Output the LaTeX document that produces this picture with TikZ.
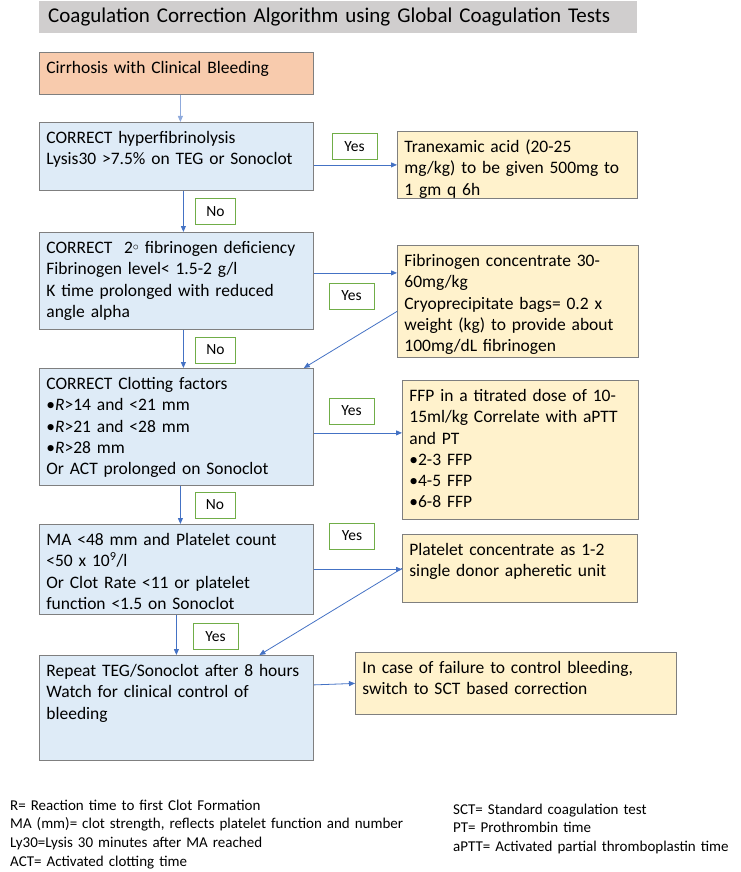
\documentclass[tikz,border=0pt]{standalone}
\usepackage{fontspec}
\setmainfont{Carlito}
\usepackage{xcolor}
\usepackage{tikz}
\usetikzlibrary{arrows.meta, positioning, calc}
\definecolor{headgray}{HTML}{D0CECE}
\definecolor{startorange}{HTML}{F8CBAD}
\definecolor{checkblue}{HTML}{DEEBF7}
\definecolor{treatyellow}{HTML}{FFF2CC}
\definecolor{edgegray}{HTML}{7F7F7F}
\definecolor{flowblue}{HTML}{4472C4}
\definecolor{flowlight}{HTML}{8FAADC}
\definecolor{taggreen}{HTML}{70AD47}
\tikzset{%
	box/.style={draw=edgegray, line width=0.8pt, anchor=north west, align=left,%
		inner xsep=7pt, inner ysep=7pt, text height=14pt, font=\fontsize{17.5}{21.3}\selectfont},
	head/.style={fill=headgray, anchor=north west, align=left, inner xsep=9pt,%
		text width=580pt, minimum height=32pt, font=\fontsize{21}{25}\selectfont},
	start/.style={box, fill=startorange, text width=260pt},
	check/.style={box, fill=checkblue, text width=260pt},
	treat/.style={box, fill=treatyellow},
	tag/.style={draw=taggreen, line width=1pt, fill=white, minimum height=26pt,%
		inner sep=0pt, font=\fontsize{15.5}{18}\selectfont},
	yestag/.style={tag, minimum width=45pt},
	notag/.style={tag, minimum width=40pt},
	flow/.style={flowblue, line width=0.8pt, -{Triangle[length=6pt, width=5pt]}},
	note/.style={anchor=base west, align=left, inner sep=0pt, text width=440pt,%
		font=\fontsize{15}{18.8}\selectfont}
}
\begin{document}
\begin{tikzpicture}[x=1pt, y=-1pt]
	\useasboundingbox (0,0) rectangle (740,872);

	\node[head] (title) at (39,1) {Coagulation Correction Algorithm using Global Coagulation Tests};

	\node[start, text depth=14pt] (cirr) at (39,52) {Cirrhosis with Clinical Bleeding};
	\node[check, text depth=40pt] (hyper) at (39,122) {CORRECT hyperfibrinolysis\\Lysis30 >7.5\% on TEG or Sonoclot};
	\node[treat, text width=226pt, text depth=39pt] (txa) at (397,131) {Tranexamic acid (20-25\\mg/kg) to be given 500mg to\\1 gm q 6h};
	\node[check, text depth=69pt] (fib) at (39,232) {CORRECT\ \ 2{\raisebox{0.3ex}{$\scriptstyle\circ$}} fibrinogen deficiency\\Fibrinogen level< 1.5-2 g/l\\K time prolonged with reduced\\angle alpha};
	\node[treat, text width=227pt, text depth=84pt] (fibdose) at (397,245) {Fibrinogen concentrate 30-\\60mg/kg\\Cryoprecipitate bags= 0.2 x\\weight (kg) to provide about\\100mg/dL fibrinogen};
	\node[check, text depth=89pt] (clot) at (39,368) {CORRECT Clotting factors\\\textbullet\textit{R}>14 and <21 mm\\\textbullet\textit{R}>21 and <28 mm\\\textbullet\textit{R}>28 mm\\Or ACT prolonged on Sonoclot};
	\node[treat, text width=222pt, text depth=111pt] (ffp) at (402,380) {FFP in a titrated dose of 10-\\15ml/kg Correlate with aPTT\\and PT\\\textbullet2-3 FFP\\\textbullet4-5 FFP\\\textbullet6-8 FFP};
	\node[check, text depth=62pt] (plt) at (39,524) {MA <48 mm and Platelet count\\<50 x 10\textsuperscript{9}/l\\Or Clot Rate <11 or platelet\\function <1.5 on Sonoclot};
	\node[treat, text width=221pt, text depth=40pt] (platelet) at (402,534) {Platelet concentrate as 1-2\\single donor apheretic unit};
	\node[check, text depth=77pt] (repeat) at (39,655) {Repeat TEG/Sonoclot after 8~hours\\Watch for clinical control of\\bleeding};
	\node[treat, text width=307pt, text depth=34pt] (sct) at (355,652) {In case of failure to control bleeding,\\switch to SCT based correction};

	\node[yestag] (yes1) at (354.5,146.5) {Yes};
	\node[notag] (no1) at (215.5,211.5) {No};
	\node[yestag] (yes2) at (351.5,296) {Yes};
	\node[notag] (no2) at (215.5,350) {No};
	\node[yestag] (yes3) at (351.5,411) {Yes};
	\node[notag] (no3) at (215,505) {No};
	\node[yestag] (yes4) at (352,536) {Yes};
	\node[yestag] (yes5) at (215.5,636.5) {Yes};

	\draw[flow, flowlight] ([xshift=4pt]cirr.south) -- ([xshift=4pt]hyper.north);
	\draw[flow] (txa.west -| hyper.east) -- (txa.west);
	\draw[flow] ([xshift=7pt]hyper.south) -- ([xshift=7pt]fib.north);
	\draw[flow] ([yshift=8pt]fib.east) -- ([yshift=8pt]fib.east -| fibdose.west);
	\draw[flow] ([yshift=-10pt]fibdose.west) -- ([xshift=-10pt]clot.north east);
	\draw[flow] ([xshift=7pt]fib.south) -- ([xshift=7pt]clot.north);
	\draw[flow] ([yshift=-6pt]clot.east) -- ([yshift=-6pt]clot.east -| ffp.west);
	\draw[flow] ([xshift=4pt]clot.south) -- ([xshift=4pt]plt.north);
	\draw[flow] (plt.east) -- (plt.east -| platelet.west);
	\draw[flow] (plt.south) -- (repeat.north);
	\draw[flow] (platelet.west) -- ([xshift=83pt]repeat.north);
	\draw[flow] ([yshift=23pt]repeat.east) -- (sct.west);

	\node[note] (abbrl) at (10,810) {R= Reaction time to first Clot Formation\\MA (mm)= clot strength, reflects platelet function and number\\Ly30=Lysis 30 minutes after MA reached\\ACT= Activated clotting time};
	\node[note, text width=285pt] (abbrr) at (453,814) {SCT= Standard coagulation test\\PT= Prothrombin time\\aPTT= Activated partial thromboplastin time};
\end{tikzpicture}
\end{document}
